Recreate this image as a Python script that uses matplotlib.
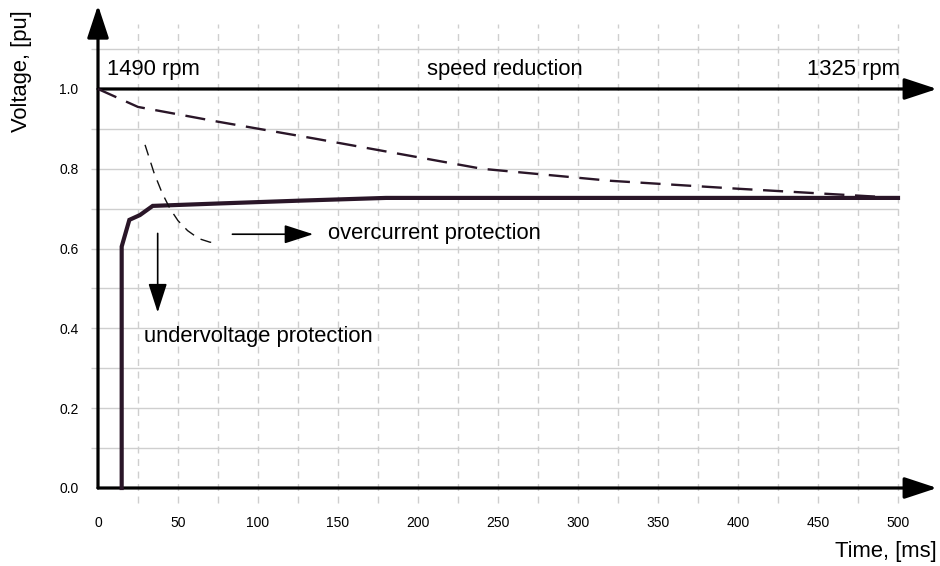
import numpy as np
import matplotlib.pyplot as plt

plt.rcParams['font.family'] = ['Liberation Sans', 'DejaVu Sans']

# datos
t_volt = [14.8, 14.8, 19.6, 26.2, 34.2, 75, 125, 180, 500]          # ms
v_volt = [0.0, 0.605, 0.672, 0.684, 0.707, 0.713, 0.720, 0.727, 0.727]

t_speed = [0, 25, 75, 135, 240, 320, 400, 500]
v_speed = [1.0, 0.955, 0.918, 0.876, 0.800, 0.770, 0.750, 0.727]

t_curr = [29.4, 35, 40, 45, 50, 56, 63, 70, 75]
v_curr = [0.86, 0.79, 0.74, 0.70, 0.67, 0.645, 0.625, 0.616, 0.615]

x_ticks = [0, 50, 100, 150, 200, 250, 300, 350, 400, 450, 500]
y_ticks = [0.0, 0.2, 0.4, 0.6, 0.8, 1.0]
x_grid = np.arange(25, 501, 25)
y_grid = [0.1, 0.2, 0.3, 0.4, 0.5, 0.6, 0.7, 0.8, 0.9, 1.1]

dark = '#2a1628'
fs = 15.8

fig = plt.figure(figsize=(9.4, 5.66), dpi=100)
ax = fig.add_axes([82/940, 1 - 527.9/566, (938 - 82)/940, (527.9 - 1.2)/566])
ax.set_xlim(-10, 525)
ax.set_ylim(-0.1, 1.22)

# rejilla
ax.hlines(y_grid, -4.4, 500, color='#cfcfcf', lw=1.0, zorder=0)
ax.vlines(x_grid, -0.038, 1.162, color='#cfcfcf', lw=1.0, linestyles=(0, (5, 4)), zorder=0)

# ejes con flechas
arrow_big = dict(arrowstyle='-|>,head_length=2.0,head_width=0.66', mutation_scale=10,
                 lw=2.3, color='black', shrinkA=0, shrinkB=0)
ax.annotate('', xy=(524.4, 0), xytext=(0, 0), arrowprops=arrow_big, zorder=3)
ax.annotate('', xy=(0, 1.21), xytext=(0, 0), arrowprops=arrow_big, zorder=3)
ax.annotate('', xy=(524.4, 1.0), xytext=(0, 1.0), arrowprops=arrow_big, zorder=3)

# curvas
ax.plot(t_volt, v_volt, color=dark, lw=3.0, solid_joinstyle='miter', zorder=4)
ax.plot(t_speed, v_speed, color=dark, lw=1.7, dashes=(8.5, 4.5), zorder=4)
ax.plot(t_curr, v_curr, color='#111111', lw=1.0, dashes=(8, 5.5), zorder=4)

# flechas de protección
arrow_small = dict(arrowstyle='-|>,head_length=1.8,head_width=0.58', mutation_scale=10,
                   lw=1.2, color='black', shrinkA=0, shrinkB=0)
ax.annotate('', xy=(134.5, 0.636), xytext=(84, 0.636), arrowprops=arrow_small)
ax.annotate('', xy=(37.3, 0.44), xytext=(37.3, 0.638), arrowprops=arrow_small)

ax.text(144, 0.638, 'overcurrent protection', fontsize=fs, va='center', ha='left')
ax.text(28.5, 0.38, 'undervoltage protection', fontsize=fs, va='center', ha='left')
ax.text(5.6, 1.05, '1490 rpm', fontsize=fs, va='center', ha='left')
ax.text(254, 1.05, 'speed reduction', fontsize=fs, va='center', ha='center')
ax.text(501, 1.05, '1325 rpm', fontsize=fs, va='center', ha='right')

# ticks
for s in ax.spines.values():
    s.set_visible(False)
ax.spines['bottom'].set_position(('data', 0))
ax.spines['left'].set_position(('data', 0))
ax.set_xticks(x_ticks)
ax.set_xticklabels([str(x) for x in x_ticks])
ax.set_yticks(y_ticks)
ax.set_yticklabels([f'{y:.1f}' for y in y_ticks])
ax.tick_params(axis='x', length=0, pad=20, labelsize=10)
ax.tick_params(axis='y', length=0, pad=14, labelsize=10)

fig.text(22/940, 1 - 71/566, 'Voltage, [pu]', rotation=90, fontsize=fs,
         ha='center', va='center')
fig.text(937/940, 1 - 552/566, 'Time, [ms]', fontsize=fs, ha='right', va='center')

fig.savefig('out.png', dpi=100)
